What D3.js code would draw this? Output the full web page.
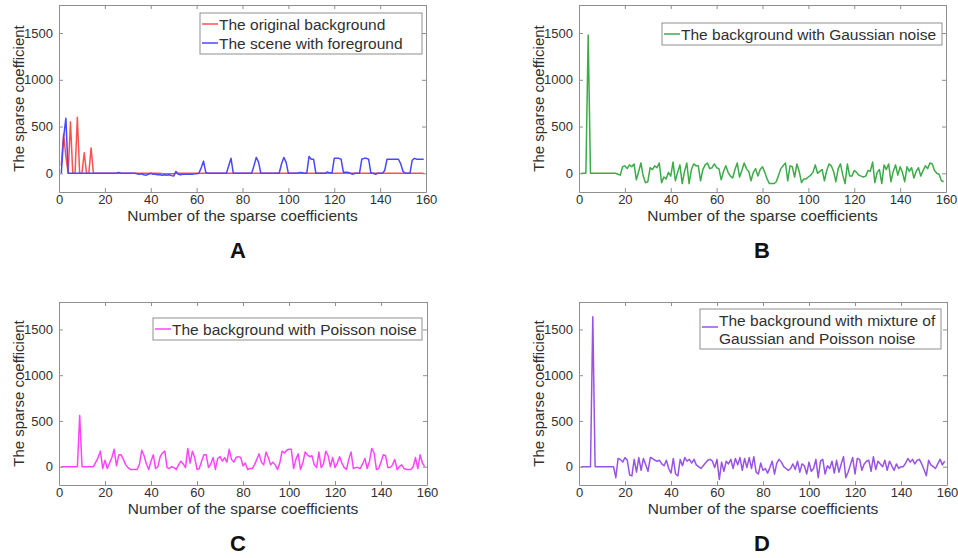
<!DOCTYPE html>
<html>
<head>
<meta charset="utf-8">
<script src="https://cdn.jsdelivr.net/npm/d3@7"></script>
<style>
  body { margin: 0; background: #fff; }
  svg { display: block; font-family: Arial, "Liberation Sans", sans-serif; }
</style>
</head>
<body>
<svg id="chart" width="958" height="558"></svg>
<script>
// Tick values shared by all four panels
const xTicks = [0, 20, 40, 60, 80, 100, 120, 140, 160];
const yTicks = [0, 500, 1000, 1500];
const xDomain = [0, 160];
const yDomain = [-200, 1800];

// Panel A: original background (red) vs. scene with foreground (blue), x = 1..159
const origBackground = [
  80, 420, 180, 0, 550, 0, 0, 600, 0, 0, 220, 0, 0, 270, 0, 0, 0, 0, 0, 0,
  0, 0, 0, 0, 0, 0, 0, 0, 0, 0, 0, 0, 0, 0, 0, 0, 0, 0, 0, 0,
  0, 0, 0, 0, -5, -5, -5, -5, -5, -5, 0, 0, 0, 0, 0, 0, 0, 0, 0, 0,
  0, 0, 0, 0, 0, 0, 0, 0, 0, 0, 0, 0, 0, 0, 0, 0, 0, 0, 0, 0,
  0, 0, 0, 0, 0, 0, 0, 0, 0, 0, 0, 0, 0, 0, 0, 0, 0, 0, 0, 0,
  0, 0, 0, 0, 0, 0, 0, 0, 0, 0, 0, 0, 0, 0, 0, 0, 0, 0, 0, 0,
  0, 0, 0, 0, 0, 0, 0, 0, 0, 0, 0, 0, 0, 0, 0, 0, 0, 0, 0, 0,
  0, 0, 0, 0, 0, 0, 0, 0, 0, 0, 0, 0, 0, 0, 0, 0, 0, 0, 0
];
const sceneForeground = [
  0, 380, 590, 0, 0, 0, 0, 0, 0, 0, 0, 0, 0, 0, 0, 0, 0, 0, 0, 0,
  0, 0, 0, 0, 0, 10, 0, 0, 0, 0, 0, 0, 0, -5, -10, -5, -15, -20, -10, 0,
  -10, -10, -15, -15, -20, -15, -20, -15, -25, -30, 20, -10, -15, -10, -10, -10, -10, -10, -5, -5,
  0, 60, 130, 10, 0, 0, 0, 0, 0, 0, 0, 0, 0, 80, 160, 0, 0, 0, 0, 0,
  0, 0, 0, 0, 80, 170, 120, 0, 0, 0, 0, 0, 0, 0, 0, 0, 100, 170, 120, 0,
  0, 0, 0, 0, 10, 5, 0, 0, 180, 150, 150, 0, 0, 0, 0, 0, 15, 5, 0, 160,
  160, 160, 150, 10, 10, 10, 0, -10, 0, 0, 0, 150, 160, 160, 150, 0, 0, -10, 0, 0,
  0, 30, 150, 150, 150, 150, 150, 150, 100, 20, 0, 0, 0, 140, 160, 150, 150, 150, 150
];

// Panel B: background with Gaussian noise
const gaussNoise = [
  0, 0, 0, 1480, 0, 0, 0, 0, 0, 0, 0, 0, 0, 0, 0, 0, -10, -20, 70, 80,
  50, 90, 70, 100, -70, 20, 110, -30, -100, -90, 60, 40, 80, 60, 110, -100, -40, -60, 10, -30,
  120, -80, 10, 90, -110, 20, 110, -110, 40, 100, 80, 80, -80, 40, 90, 110, 50, 60, 100, 60,
  50, -70, 20, 80, 10, -30, -50, 40, 110, -40, 30, 110, 50, 20, -80, 10, 50, -30, 40, 70,
  10, -60, -110, -110, -110, -90, -20, 50, 80, 110, -80, 80, 70, -40, 100, 20, -100, -60, -60, -40,
  -20, 10, 90, 0, 20, 40, -80, 30, 100, 80, 20, -90, 50, 100, -20, -110, 100, -30, -30, 30,
  10, -20, -30, -40, -30, 30, 20, 120, -100, 10, 40, -110, 90, 40, 100, -90, 20, 90, -20, 70,
  10, -90, 70, 20, 60, -50, 20, 60, -30, 30, 80, 50, 110, 100, 30, 0, -10, -80, -90
];

// Panel C: background with Poisson noise
const poissonNoise = [
  0, 0, 0, 0, 0, 0, 0, 0, 560, 0, 0, 0, 0, 0, 0, 50, 100, 170, -20, 70,
  -20, 40, 100, 190, 10, 130, 130, 80, 20, -10, -30, -30, -30, -30, 30, 180, 120, 30, -30, 60,
  130, -20, 0, 110, 150, 170, -10, -20, 0, -10, -30, 20, 60, 30, -10, 200, 40, 170, 100, -30,
  -20, 60, 130, 130, -10, 30, 100, -30, 90, 110, 60, 100, 50, 190, 80, 50, 100, 110, 100, 10,
  40, -30, -20, -20, 20, 80, 140, 50, 20, 160, 100, 20, 50, 20, -30, 40, 170, 150, 180, 190,
  190, -20, 80, 140, -30, 40, 160, 130, 110, 120, 20, -10, 160, -10, 30, 170, 120, 0, 100, -10,
  40, 110, 40, -10, -30, 80, 160, -20, -10, -10, -20, 30, 90, -20, 60, 200, 150, -30, -20, 50,
  130, 120, -10, -10, 20, 80, -30, 0, 20, -20, -30, -30, -30, 0, 100, -20, 130, 40, 0
];

// Panel D: background with mixture of Gaussian and Poisson noise
const mixedNoise = [
  0, 0, 0, 0, 0, 1640, 0, 0, 0, 0, 0, 0, 0, 0, 0, -120, 90, 80, 50, 100,
  70, -90, -100, 80, -60, 100, -40, 90, 20, -50, 100, 90, 70, 60, 70, 30, 10, 70, -20, -70,
  90, -80, -100, 80, 10, 100, 60, 80, 40, 80, 20, 0, -20, 10, 40, 70, 80, 60, -10, 80,
  -140, 50, -50, 60, 30, 80, -20, 90, 20, 100, -40, 90, -10, 100, -20, 110, -60, -80, 40, -40,
  -20, -70, -10, 60, -80, 40, 80, 50, 0, -20, -40, -20, 30, -30, 60, -60, 30, 10, -80, 50,
  -50, -20, 80, -120, 60, 80, -80, 10, -20, 60, -70, 70, -60, 30, 110, -120, -60, 20, 100, -80,
  90, 80, -40, 30, 60, 70, -50, 110, -30, 60, 30, 0, 70, -40, 60, 10, -40, 30, -20, 0,
  0, 40, 90, 50, 80, 30, 70, 80, 30, -30, -100, 70, 20, 0, -20, 30, 80, 20, 60
];

const panels = [
  {
    letter: 'A', left: 59, right: 426, top: 5, bottom: 192, letterX: 238, letterY: 250,
    series: [
      { values: origBackground, color: '#ff5050', label: 'The original background' },
      { values: sceneForeground, color: '#4848ff', label: 'The scene with foreground' }
    ],
    legend: { x: 200, y: 13, w: 222, h: 41, rows: [[24, 0], [43, 1]], lineY: null }
  },
  {
    letter: 'B', left: 579, right: 946, top: 5, bottom: 192, letterX: 762, letterY: 250,
    series: [
      { values: gaussNoise, color: '#3cab48', label: 'The background with Gaussian noise' }
    ],
    legend: { x: 662, y: 23, w: 280, h: 22, rows: [[34, 0]], lineY: null }
  },
  {
    letter: 'C', left: 59, right: 427, top: 302, bottom: 485, letterX: 238, letterY: 543,
    series: [
      { values: poissonNoise, color: '#ff44ff', label: 'The background with Poisson noise' }
    ],
    legend: { x: 153, y: 318, w: 269, h: 22, rows: [[329, 0]], lineY: null }
  },
  {
    letter: 'D', left: 579, right: 947, top: 302, bottom: 485, letterX: 762, letterY: 543,
    series: [
      { values: mixedNoise, color: '#9a52e4', label: ['The background with mixture of', 'Gaussian and Poisson noise'] }
    ],
    legend: { x: 700, y: 309, w: 241, h: 40, rows: [[320, 0], [338, 0]], lineY: 327 }
  }
];

const svg = d3.select('#chart');
svg.append('rect').attr('width', 958).attr('height', 558).attr('fill', '#fff');

const AXIS_COLOR = '#8f8f8f';
const TEXT_COLOR = '#303030';

panels.forEach((p, pi) => {
  const x = d3.scaleLinear().domain(xDomain).range([p.left, p.right]);
  const y = d3.scaleLinear().domain(yDomain).range([p.bottom, p.top]);
  const g = svg.append('g').attr('class', 'panel-' + p.letter);

  // clip the series to the axes box
  const clipId = 'clip-' + pi;
  svg.append('defs').append('clipPath').attr('id', clipId)
    .append('rect')
    .attr('x', p.left).attr('y', p.top)
    .attr('width', p.right - p.left).attr('height', p.bottom - p.top);

  // --- series lines ---
  const line = d3.line()
    .x((d, i) => x(i + 1))
    .y(d => y(d));

  p.series.forEach(s => {
    g.append('path')
      .datum(s.values)
      .attr('clip-path', `url(#${clipId})`)
      .attr('fill', 'none')
      .attr('stroke', s.color)
      .attr('stroke-width', 1.5)
      .attr('stroke-linejoin', 'round')
      .attr('d', line);
  });

  // --- axes (MATLAB style: box, ticks pointing inward) ---
  const styleAxis = sel => {
    sel.select('.domain').attr('stroke', AXIS_COLOR);
    sel.selectAll('.tick line').attr('stroke', AXIS_COLOR);
    sel.selectAll('.tick text')
      .attr('fill', TEXT_COLOR)
      .attr('font-size', '13px');
  };

  g.append('g')
    .attr('transform', `translate(0,${p.bottom})`)
    .call(d3.axisBottom(x).tickValues(xTicks).tickSize(-4).tickSizeOuter(0).tickPadding(3).tickFormat(d3.format('d')))
    .call(styleAxis);

  g.append('g')
    .attr('transform', `translate(0,${p.top})`)
    .call(d3.axisTop(x).tickValues(xTicks).tickSize(-4).tickSizeOuter(0).tickFormat(''))
    .call(styleAxis);

  g.append('g')
    .attr('transform', `translate(${p.left},0)`)
    .call(d3.axisLeft(y).tickValues(yTicks).tickSize(-4).tickSizeOuter(0).tickPadding(6).tickFormat(d3.format('d')))
    .call(styleAxis);

  g.append('g')
    .attr('transform', `translate(${p.right},0)`)
    .call(d3.axisRight(y).tickValues(yTicks).tickSize(-4).tickSizeOuter(0).tickFormat(''))
    .call(styleAxis);

  g.selectAll('.domain').attr('fill', 'none');

  // --- axis titles ---
  g.append('text')
    .attr('x', (p.left + p.right) / 2)
    .attr('y', p.bottom + 23)
    .attr('text-anchor', 'middle')
    .attr('dominant-baseline', 'central')
    .attr('font-size', '15.5px')
    .attr('fill', TEXT_COLOR)
    .text('Number of the sparse coefficients');

  g.append('text')
    .attr('transform', `translate(${p.left - 41},${(p.top + p.bottom) / 2}) rotate(-90)`)
    .attr('text-anchor', 'middle')
    .attr('dominant-baseline', 'central')
    .attr('font-size', '15px')
    .attr('fill', TEXT_COLOR)
    .text('The sparse coefficient');

  // --- legend ---
  const L = p.legend;
  g.append('rect')
    .attr('x', L.x).attr('y', L.y)
    .attr('width', L.w).attr('height', L.h)
    .attr('fill', '#fff')
    .attr('stroke', AXIS_COLOR)
    .attr('stroke-width', 1);

  L.rows.forEach(([rowY, si], ri) => {
    const s = p.series[si];
    const label = Array.isArray(s.label) ? s.label[ri] : s.label;
    if (L.lineY === null || ri === 0) {
      const ly = L.lineY === null ? rowY : L.lineY;
      g.append('line')
        .attr('x1', L.x + 2).attr('x2', L.x + 18)
        .attr('y1', ly).attr('y2', ly)
        .attr('stroke', s.color)
        .attr('stroke-width', 1.5);
    }
    g.append('text')
      .attr('x', L.x + 19)
      .attr('y', rowY)
      .attr('dominant-baseline', 'central')
      .attr('font-size', '15.5px')
      .attr('fill', TEXT_COLOR)
      .text(label);
  });

  // --- panel letter ---
  svg.append('text')
    .attr('x', p.letterX)
    .attr('y', p.letterY)
    .attr('text-anchor', 'middle')
    .attr('dominant-baseline', 'central')
    .attr('font-size', '22px')
    .attr('font-weight', 'bold')
    .attr('fill', '#111')
    .text(p.letter);
});
</script>
</body>
</html>
